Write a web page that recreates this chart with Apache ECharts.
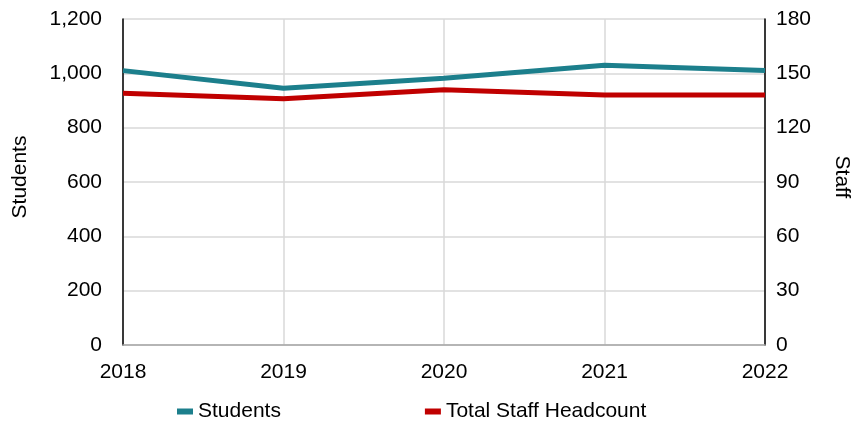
<!DOCTYPE html>
<html>
<head>
<meta charset="utf-8">
<script src="https://cdn.jsdelivr.net/npm/echarts@6/dist/echarts.min.js"></script>
<style>
  html, body { margin: 0; padding: 0; background: #fff; }
  #chart { width: 851px; height: 423px; }
</style>
</head>
<body>
<div id="chart"></div>
<script>
// Enrolment and staffing, 2018–2022
const years = ['2018', '2019', '2020', '2021', '2022'];
const students = [1010, 945, 982, 1030, 1010];
const staffHeadcount = [139, 136, 141, 138, 138];

const font = 'Liberation Sans, Arial, sans-serif';
const textStyle = { color: '#000', fontFamily: font, fontSize: 21 };

const chart = echarts.init(document.getElementById('chart'), null, { renderer: 'canvas' });
chart.setOption({
  animation: false,
  textStyle: textStyle,
  grid: {
    left: 123, right: 86, top: 19, bottom: 78,
    containLabel: false,
    outerBoundsMode: 'none'
  },
  legend: {
    left: 172,
    top: 396,
    icon: 'rect',
    itemWidth: 16,
    itemHeight: 6,
    itemGap: 144,
    textStyle: textStyle,
    data: ['Students', 'Total Staff Headcount']
  },
  xAxis: {
    type: 'category',
    data: years,
    boundaryGap: false,
    axisLine: { show: true, lineStyle: { color: '#a6a6a6', width: 1.5 } },
    axisTick: { show: false },
    axisLabel: { margin: 17, color: '#000', fontFamily: font, fontSize: 21 },
    splitLine: { show: true, lineStyle: { color: '#d9d9d9', width: 1.5 } }
  },
  yAxis: [
    {
      type: 'value',
      min: 0, max: 1200, interval: 200,
      name: 'Students',
      nameLocation: 'middle',
      nameRotate: 90,
      nameGap: 92,
      nameTextStyle: Object.assign({}, textStyle, { padding: [0, 0, 0, 10] }),
      axisLine: { show: true, lineStyle: { color: '#000', width: 1.5 } },
      axisTick: { show: false },
      axisLabel: {
        margin: 21, color: '#000', fontFamily: font, fontSize: 21,
        formatter: v => v.toLocaleString('en-US')
      },
      splitLine: { show: true, lineStyle: { color: '#d9d9d9', width: 1.5 } }
    },
    {
      type: 'value',
      min: 0, max: 180, interval: 30,
      name: 'Staff',
      nameLocation: 'middle',
      nameRotate: -90,
      nameGap: 66,
      nameTextStyle: Object.assign({}, textStyle, { padding: [0, 10, 0, 0] }),
      axisLine: { show: true, lineStyle: { color: '#000', width: 1.5 } },
      axisTick: { show: false },
      axisLabel: { margin: 11, color: '#000', fontFamily: font, fontSize: 21 },
      splitLine: { show: false }
    }
  ],
  series: [
    {
      name: 'Students',
      type: 'line',
      yAxisIndex: 0,
      data: students,
      symbol: 'none',
      lineStyle: { color: '#1c7f8c', width: 5 },
      itemStyle: { color: '#1c7f8c' }
    },
    {
      name: 'Total Staff Headcount',
      type: 'line',
      yAxisIndex: 1,
      data: staffHeadcount,
      symbol: 'none',
      lineStyle: { color: '#c00000', width: 5 },
      itemStyle: { color: '#c00000' }
    }
  ]
});
</script>
</body>
</html>
